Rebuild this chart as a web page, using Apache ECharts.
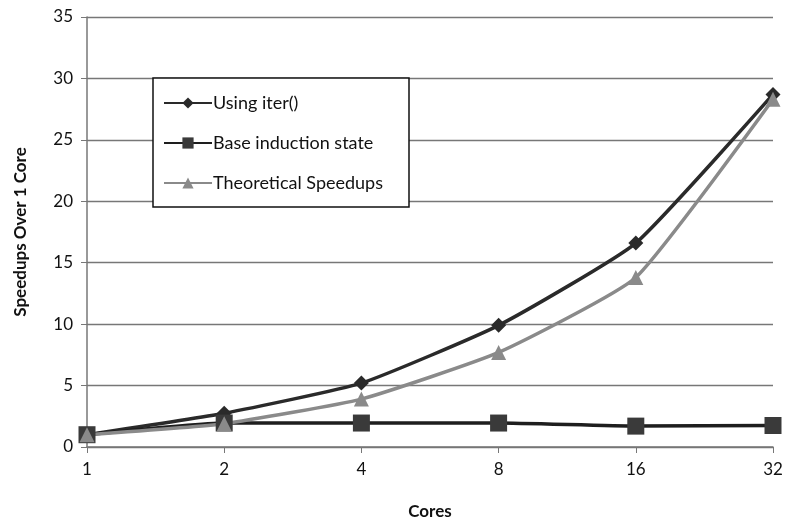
<!DOCTYPE html>
<html>
<head>
<meta charset="utf-8">
<script src="https://cdn.jsdelivr.net/npm/echarts@6/dist/echarts.min.js"></script>
<style>
  html, body { margin: 0; padding: 0; background: #fff; }
  #chart { width: 788px; height: 522px; }
</style>
</head>
<body>
<div id="chart"></div>
<script>
var cores = ['1', '2', '4', '8', '16', '32'];
var usingIter = [1.0, 2.75, 5.2, 9.9, 16.6, 28.7];
var baseInduction = [1.0, 1.95, 1.95, 1.95, 1.7, 1.75];
var theoretical = [1.0, 1.9, 3.9, 7.7, 13.8, 28.3];

var chartDom = document.getElementById('chart');
var myChart = echarts.init(chartDom, null, { renderer: 'canvas' });

var option = {
  textStyle: {
    fontFamily: 'Lato, "Open Sans", sans-serif'
  },
  animation: false,
  grid: {
    left: 87,
    right: 15,
    top: 17,
    bottom: 75,
    outerBoundsMode: 'none'
  },
  legend: {
    orient: 'vertical',
    left: 153,
    top: 78,
    padding: [16, 26, 15, 10],
    itemGap: 22,
    itemWidth: 48,
    itemHeight: 14,
    borderColor: '#111',
    borderWidth: 1.5,
    backgroundColor: '#fff',
    textStyle: {
      fontSize: 18,
      color: '#111',
      padding: [0, 0, 0, -4]
    },
    data: ['Using iter()', 'Base induction state', 'Theoretical Speedups']
  },
  xAxis: {
    type: 'category',
    data: cores,
    boundaryGap: false,
    name: 'Cores',
    nameLocation: 'middle',
    nameGap: 56,
    nameTextStyle: { fontSize: 17, fontWeight: 'bold', color: '#111' },
    axisLine: { lineStyle: { color: '#777', width: 1.5 } },
    axisTick: { show: true, length: 6, lineStyle: { color: '#777' } },
    axisLabel: { fontSize: 17, color: '#111', margin: 14 }
  },
  yAxis: {
    type: 'value',
    min: 0,
    max: 35,
    interval: 5,
    name: 'Speedups Over 1 Core',
    nameLocation: 'middle',
    nameGap: 58,
    nameTextStyle: { fontSize: 17, fontWeight: 'bold', color: '#111' },
    axisLine: { show: true, lineStyle: { color: '#777', width: 1.5 } },
    axisTick: { show: true, length: 6, lineStyle: { color: '#777' } },
    axisLabel: { fontSize: 17, color: '#111', margin: 14 },
    splitLine: { lineStyle: { color: '#777', width: 1.3 } }
  },
  series: [
    {
      name: 'Using iter()',
      type: 'line',
      data: usingIter,
      smooth: 0.15,
      symbol: 'diamond',
      symbolSize: 15,
      lineStyle: { color: '#2a2a2a', width: 3.5 },
      itemStyle: { color: '#2a2a2a' }
    },
    {
      name: 'Base induction state',
      type: 'line',
      data: baseInduction,
      smooth: 0.15,
      symbol: 'rect',
      symbolSize: 17,
      lineStyle: { color: '#1e1e1e', width: 3.5 },
      itemStyle: { color: '#3a3a3a' }
    },
    {
      name: 'Theoretical Speedups',
      type: 'line',
      data: theoretical,
      smooth: 0.15,
      symbol: 'triangle',
      symbolSize: 15,
      lineStyle: { color: '#8a8a8a', width: 3.5 },
      itemStyle: { color: '#8a8a8a' }
    }
  ]
};

myChart.setOption(option, true);
</script>
</body>
</html>
